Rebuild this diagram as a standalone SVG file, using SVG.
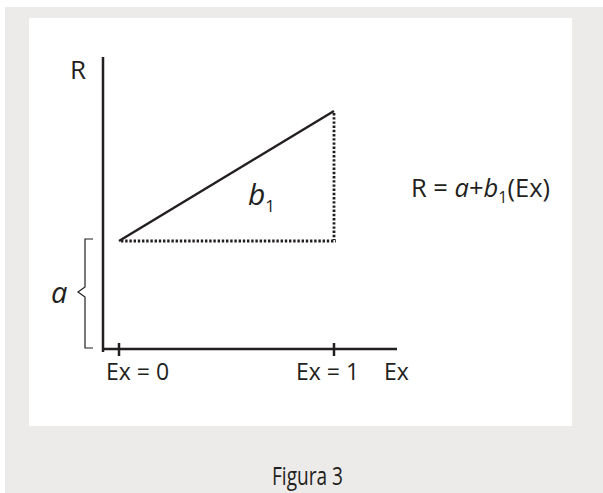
<svg xmlns="http://www.w3.org/2000/svg" width="603" height="493" viewBox="0 0 603 493">
<style>
  .t { font-family: "Open Sans", "Noto Sans", sans-serif; fill: #231f20; }
  .i { font-style: italic; }
  .ax { stroke: #231f20; stroke-width: 2.5; fill: none; }
  .dot { stroke: #231f20; stroke-width: 2.8; stroke-dasharray: 2.4 1.8; fill: none; }
  .thin { stroke: #231f20; stroke-width: 1.2; fill: none; }
</style>
<rect x="5" y="7" width="598" height="486" fill="#ecebe9"/>
<rect x="29" y="18" width="543" height="408" fill="#ffffff"/>
<g id="connectors">
  <line class="ax" x1="103" y1="57" x2="103" y2="352"/>
  <line class="ax" x1="102" y1="349" x2="397" y2="349"/>
  <line class="ax" x1="119" y1="343" x2="119" y2="356" stroke-width="2"/>
  <line class="ax" x1="334" y1="343" x2="334" y2="356" stroke-width="2"/>
  <line class="ax" x1="119" y1="241" x2="334" y2="111"/>
  <line class="dot" x1="121" y1="241" x2="336" y2="241"/>
  <line class="dot" x1="334" y1="113" x2="334" y2="240"/>
  <path class="thin" d="M93 239 H85 V287 L78 292 L85 297 V348 H93"/>
</g>
<g id="labels">
  <text class="t" x="70" y="79" font-size="26">R</text>
  <text class="t i" x="51" y="303" font-size="29">a</text>
  <text class="t i" x="248" y="205" font-size="30">b<tspan font-size="17" font-style="normal" dy="7">1</tspan></text>
  <text class="t" x="411" y="197" font-size="25.5">R = <tspan class="i">a</tspan>+<tspan class="i">b</tspan><tspan font-size="16" dy="6">1</tspan><tspan dy="-6">(Ex)</tspan></text>
  <text class="t" x="106" y="380" font-size="23">Ex = 0</text>
  <text class="t" x="296" y="380" font-size="23">Ex = 1</text>
  <text class="t" x="384" y="380" font-size="23">Ex</text>
  <text class="t" x="272" y="485" font-size="26" textLength="71" lengthAdjust="spacingAndGlyphs">Figura 3</text>
</g>
</svg>
